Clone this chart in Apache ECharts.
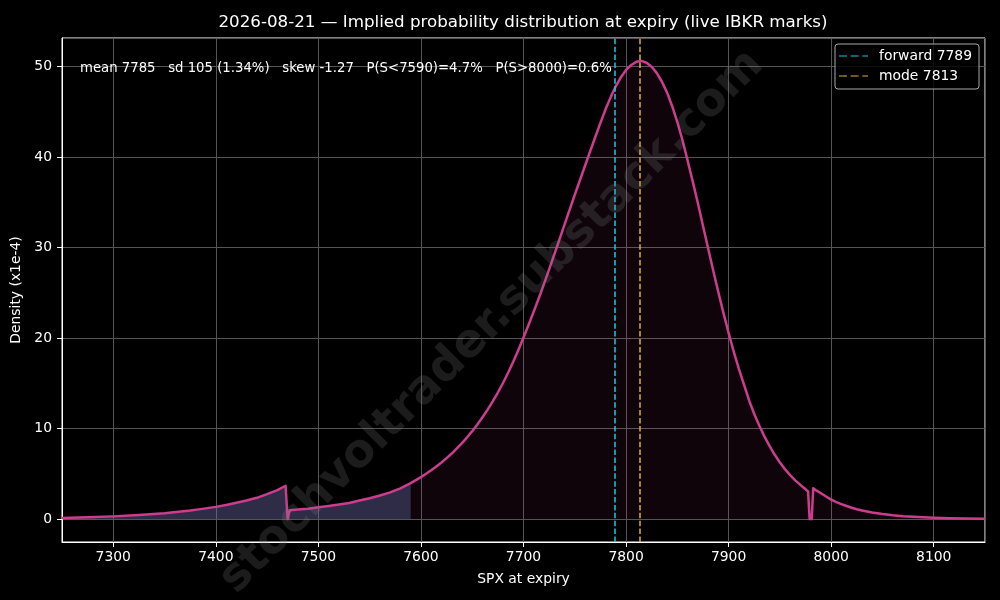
<!DOCTYPE html>
<html><head><meta charset="utf-8">
<script src="https://cdn.jsdelivr.net/npm/echarts@6/dist/echarts.min.js"></script>
<style>html,body{margin:0;padding:0;background:#000}#c{width:1000px;height:600px}</style>
</head><body><div id="c"></div>
<script>
// SPX level at expiry
const spx = [7250,7275,7300,7325,7350,7375,7385,7400,7410,7420,7430,7440,7450,7460,7468,7470,7471,7472,
  7480,7490,7500,7510,7520,7530,7540,7550,7560,7570,7580,7590,
  7595,7600,7605,7610,7615,7620,7625,7630,7635,7640,7645,7650,7655,7660,7665,7670,7675,7680,7685,7690,7695,
  7700,7705,7710,7715,7720,7725,7730,7735,7740,7745,7750,7755,7760,7765,7770,7775,7780,7785,7790,7795,
  7800,7805,7810,7815,7820,7825,7830,7835,7840,7845,7850,7855,7860,7865,7870,7875,7880,7885,7890,7895,
  7900,7905,7910,7915,7920,7925,7930,7935,7940,7945,7950,7955,7960,7965,7970,7975,7977.5,7979,7981,7982.5,
  7985,7990,7995,8000,8005,8010,8015,8020,8025,8030,8035,8040,8050,8060,8070,8080,8090,8100,8115,8130,8150];
// density (x1e-4)
const density = [0.12,0.2,0.3,0.45,0.65,0.95,1.1,1.35,1.55,1.8,2.05,2.35,2.75,3.2,3.68,0.0,0.0,0.97,
  1.05,1.15,1.3,1.45,1.6,1.78,2.05,2.3,2.6,2.95,3.4,3.98,
  4.3,4.64,5.0,5.39,5.8,6.25,6.73,7.24,7.8,8.39,9.03,9.71,10.45,11.24,12.09,13.0,13.98,15.03,16.16,17.37,18.68,
  20.05,21.47,22.92,24.42,25.97,27.57,29.22,30.87,32.52,34.17,35.82,37.42,39.02,40.62,42.2,43.75,45.25,46.6,47.8,48.8,
  49.6,50.15,50.5,50.6,50.4,49.95,49.25,48.3,47.1,45.6,43.85,41.85,39.6,37.3,34.9,32.4,29.9,27.45,25.05,22.75,
  20.55,18.5,16.6,14.85,13.1,11.6,10.3,9.1,8.05,7.1,6.25,5.5,4.85,4.28,3.78,3.3,3.05,0.0,0.0,3.4,
  3.2,2.85,2.5,2.15,1.88,1.65,1.45,1.25,1.08,0.95,0.83,0.72,0.55,0.42,0.32,0.25,0.19,0.15,0.1,0.07,0.05];
const FORWARD = 7789;
const MODE = 7813;
const LEFT_CUT = 7590;
const titleText = '2026-08-21 \u2014 Implied probability distribution at expiry (live IBKR marks)';
const statsText = 'mean 7785   sd 105 (1.34%)   skew -1.27   P(S<7590)=4.7%   P(S>8000)=0.6%';
const watermarkText = 'stochvoltrader.substack.com';
const X_MIN = 7250, X_MAX = 8150, Y_MIN = -2.53, Y_MAX = 53.13;

const pairs = spx.map((x, i) => [x, density[i]]);
const tailPairs = pairs.filter(p => p[0] <= LEFT_CUT);

const FONT = 'DejaVu Sans';
const chart = echarts.init(document.getElementById('c'), null, {renderer: 'canvas'});
const dashIcon = 'path://M0,0h8v1h-8z M11.7,0h8v1h-8z M23.4,0h5.7v1h-5.7z';
chart.setOption({
  backgroundColor: '#000',
  animation: false,
  textStyle: {fontFamily: FONT},
  grid: {left: 62, right: 15, top: 38, bottom: 58, show: true, borderColor: '#fff', borderWidth: 1},
  xAxis: {
    type: 'value', min: X_MIN, max: X_MAX, splitNumber: 9,
    name: 'SPX at expiry', nameLocation: 'middle', nameGap: 30,
    nameTextStyle: {color: '#fff', fontSize: 13.9, fontFamily: FONT},
    axisLine: {show: true, onZero: false, lineStyle: {color: '#fff', width: 1}},
    axisTick: {show: true, inside: false, length: 5, lineStyle: {color: '#fff'}},
    axisLabel: {color: '#fff', fontSize: 13.9, margin: 8, fontFamily: FONT, showMinLabel: false, showMaxLabel: false,
      formatter: v => String(v)},
    splitLine: {show: true, lineStyle: {color: '#555', width: 1}}
  },
  yAxis: {
    type: 'value', min: Y_MIN, max: Y_MAX, splitNumber: 5,
    name: 'Density (x1e-4)', nameLocation: 'middle', nameGap: 24,
    nameTextStyle: {color: '#fff', fontSize: 13.9, fontFamily: FONT},
    axisLine: {show: true, onZero: false, lineStyle: {color: '#fff', width: 1}},
    axisTick: {show: true, inside: false, length: 5, lineStyle: {color: '#fff'}},
    axisLabel: {color: '#fff', fontSize: 13.9, margin: 10, fontFamily: FONT, showMinLabel: false, showMaxLabel: false,
      formatter: v => String(v)},
    splitLine: {show: true, lineStyle: {color: '#555', width: 1}}
  },
  legend: {
    show: true, left: 835, top: 44, orient: 'vertical',
    padding: [5, 7, 6, 4], itemGap: 6, itemWidth: 29, itemHeight: 2,
    backgroundColor: 'rgba(0,0,0,0.8)', borderColor: '#aaa', borderWidth: 1, borderRadius: 3,
    textStyle: {color: '#fff', fontSize: 13.9, fontFamily: FONT, padding: [0, 0, 0, 6]},
    data: [
      {name: 'forward 7789', icon: dashIcon, itemStyle: {color: '#1ec8e8', opacity: 1}},
      {name: 'mode 7813', icon: dashIcon, itemStyle: {color: '#e0b030', opacity: 1}}
    ]
  },
  graphic: [
    {type: 'text', x: 523, y: 23, z: 100, style: {text: titleText, fill: '#fff', font: '16.7px "DejaVu Sans"', align: 'center', verticalAlign: 'middle'}},
    {type: 'text', left: 80, top: 62, z: 100, style: {text: statsText, fill: '#fff', font: '13.25px "DejaVu Sans"'}},
    {type: 'text', x: 492, y: 322, rotation: 45 * Math.PI / 180, z: 50,
      style: {text: watermarkText, fill: 'rgba(128,128,128,0.22)', font: 'bold 46px "DejaVu Sans"', align: 'center', verticalAlign: 'middle'}}
  ],
  series: [
    {
      name: 'densityFill', type: 'line', data: pairs, showSymbol: false, silent: true, z: 2,
      lineStyle: {width: 0, opacity: 0},
      areaStyle: {color: 'rgba(204,61,142,0.1)', origin: 0}
    },
    {
      name: 'tail', type: 'line', data: tailPairs, showSymbol: false, silent: true, z: 3,
      lineStyle: {width: 0, opacity: 0},
      areaStyle: {color: 'rgba(100,110,170,0.55)', origin: 0}
    },
    {
      name: 'density', type: 'line', data: pairs, showSymbol: false, silent: true, z: 4,
      lineStyle: {color: '#cc3d8e', width: 2.5, join: 'round'},
      itemStyle: {color: '#cc3d8e'}
    },
    {
      name: 'forward 7789', type: 'line', data: [], z: 5,
      itemStyle: {color: '#1ec8e8'}, lineStyle: {color: '#1ec8e8'},
      markLine: {symbol: 'none', silent: true, label: {show: false}, animation: false,
        lineStyle: {color: '#1ec8e8', width: 1.5, type: [5.5, 2.4]}, data: [{xAxis: FORWARD}]}
    },
    {
      name: 'mode 7813', type: 'line', data: [], z: 5,
      itemStyle: {color: '#e0b030'}, lineStyle: {color: '#e0b030'},
      markLine: {symbol: 'none', silent: true, label: {show: false}, animation: false,
        lineStyle: {color: '#e0b030', width: 1.5, type: [5.5, 2.4]}, data: [{xAxis: MODE}]}
    }
  ]
});
</script></body></html>
